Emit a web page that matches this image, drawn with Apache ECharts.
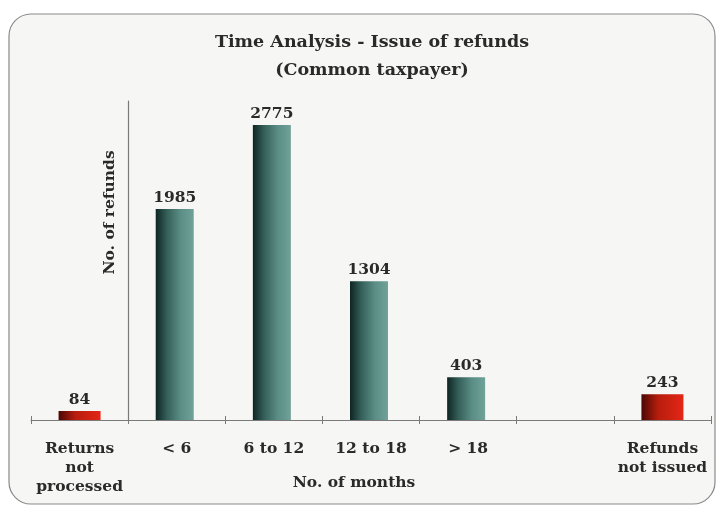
<!DOCTYPE html>
<html><head><meta charset="utf-8">
<script src="https://cdn.jsdelivr.net/npm/echarts@6/dist/echarts.min.js"></script>
<style>html,body{margin:0;padding:0;background:#fff}#c{width:716px;height:506px}</style>
</head><body><div id="c"></div>
<script>
var categories = ["Returns\nnot\nprocessed", "< 6", "6 to 12", "12 to 18", "> 18", "", "Refunds\nnot issued"];
var refundValues = [null, 1985, 2775, 1304, 403, null, null];
var pendingValues = [84, null, null, null, null, null, 243];
var titleLines = ["Time Analysis - Issue of refunds", "(Common taxpayer)"];
var yName = "No. of refunds";
var xName = "No. of months";

var FONT = "DejaVu Serif";
var chart = echarts.init(document.getElementById('c'), null, {renderer: 'canvas'});
var tealGrad = new echarts.graphic.LinearGradient(0, 0, 1, 0, [
  {offset: 0, color: '#0e2523'}, {offset: 0.3, color: '#35605a'}, {offset: 0.65, color: '#5a8d85'}, {offset: 1, color: '#70a299'}]);
var redGrad = new echarts.graphic.LinearGradient(0, 0, 1, 0, [
  {offset: 0, color: '#4a0804'}, {offset: 0.4, color: '#b81d0e'}, {offset: 1, color: '#e42616'}]);
var labelStyle = {show: true, position: 'top', distance: 3, color: '#2a2a2a', fontFamily: FONT, fontWeight: 'bold', fontSize: 15.5};

chart.setOption({
  backgroundColor: '#ffffff',
  graphic: [{
    type: 'rect', z: -10, silent: true,
    shape: {x: 9, y: 14, width: 706, height: 490, r: 22},
    style: {fill: '#f6f6f4', stroke: '#8a8a8a', lineWidth: 1.2}
  }],
  title: {
    text: titleLines.join('\n'), left: 367, top: 23, textAlign: 'center',
    textStyle: {fontFamily: FONT, fontWeight: 'bold', fontSize: 17.5, color: '#2a2a2a', lineHeight: 28}
  },
  grid: {left: 31, right: 5, top: 101, bottom: 86, containLabel: false, outerBoundsMode: 'none'},
  xAxis: [{
    type: 'category', data: categories,
    axisLine: {lineStyle: {color: '#7a7a7a', width: 1.2}},
    axisTick: {show: true, length: 4, lineStyle: {color: '#7a7a7a'}},
    axisLabel: {margin: 19, color: '#2a2a2a', fontFamily: FONT, fontWeight: 'bold', fontSize: 15.5, lineHeight: 19, interval: 0},
    name: xName, nameLocation: 'middle', nameGap: 55, nameMoveOverlap: false,
    nameTextStyle: {color: '#2a2a2a', fontFamily: FONT, fontWeight: 'bold', fontSize: 15.5, padding: [0, 34, 0, 0]}
  }, {
    type: 'category', data: categories, position: 'bottom',
    axisLine: {show: false},
    axisTick: {show: true, inside: true, length: 4, lineStyle: {color: '#7a7a7a'}},
    axisLabel: {show: false}
  }],
  yAxis: {
    type: 'value', min: 0, max: 3000, offset: -97,
    splitLine: {show: false},
    axisLine: {show: true, lineStyle: {color: '#7a7a7a', width: 1.2}},
    axisTick: {show: false}, axisLabel: {show: false},
    name: yName, nameLocation: 'middle', nameGap: 10, nameRotate: 90, nameMoveOverlap: false,
    nameTextStyle: {color: '#2a2a2a', fontFamily: FONT, fontWeight: 'bold', fontSize: 15.5, padding: [0, 0, 0, 96]}
  },
  series: [{
    type: 'bar', data: refundValues, barWidth: 38, barGap: '-100%',
    itemStyle: {color: tealGrad}, label: labelStyle
  }, {
    type: 'bar', data: pendingValues, barWidth: 42,
    itemStyle: {color: redGrad}, label: labelStyle
  }]
});
</script></body></html>
